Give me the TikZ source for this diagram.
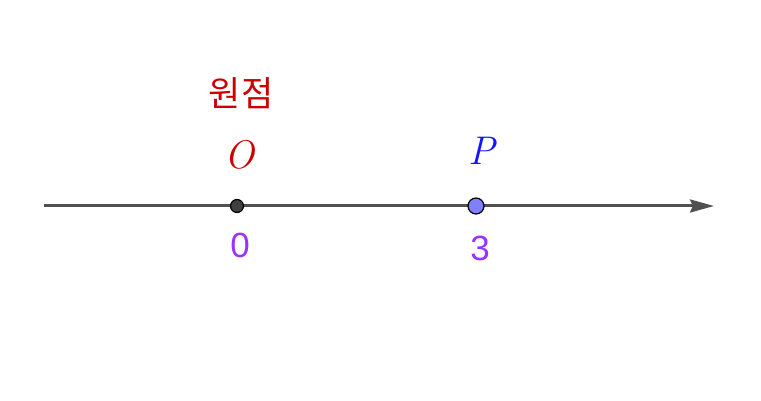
\documentclass[tikz,border=0pt]{standalone}
\usepackage{fontspec}
\usetikzlibrary{arrows.meta}
\newfontfamily\krfont{Noto Sans CJK KR}
\newfontfamily\digitfont{Liberation Sans}
\definecolor{axisgray}{RGB}{80,80,80}
\definecolor{ptred}{RGB}{204,0,0}
\definecolor{ptblue}{RGB}{20,20,255}
\definecolor{numpurple}{RGB}{153,51,255}
\definecolor{pfill}{RGB}{128,128,255}
\definecolor{ofill}{RGB}{64,64,64}
\begin{document}
\begin{tikzpicture}[x=1pt,y=-1pt,
  axisline/.style={draw=axisgray,line width=3pt,-{Stealth[length=24pt,width=13pt,inset=3pt]}},
  ptdot/.style={circle,draw=black,line width=1.2pt,inner sep=0pt},
  numlabel/.style={text=numpurple,font=\digitfont\fontsize{35}{38}\selectfont,inner sep=0pt},
  ptlabel/.style={font=\itshape\fontsize{40}{44}\selectfont,inner sep=0pt}]
\useasboundingbox (0,0) rectangle (761,401);
\coordinate (start) at (44,206);
\coordinate (end) at (714,206);
\draw[axisline] (start) -- (end);
\node[ptdot,fill=ofill,minimum size=13pt] (O) at (237,206) {};
\node[ptdot,fill=pfill,minimum size=16pt] (P) at (476,206) {};
\node[ptlabel,text=ptred] (Olab) at (239,155) {O};
\node[ptlabel,text=ptblue] (Plab) at (482,151) {P};
\node[text=ptred,font=\krfont\fontsize{35}{38}\selectfont,inner sep=0pt] (origin) at (241,93) {원점};
\node[numlabel] (zero) at (240,245) {0};
\node[numlabel] (three) at (480,248) {3};
\end{tikzpicture}
\end{document}
